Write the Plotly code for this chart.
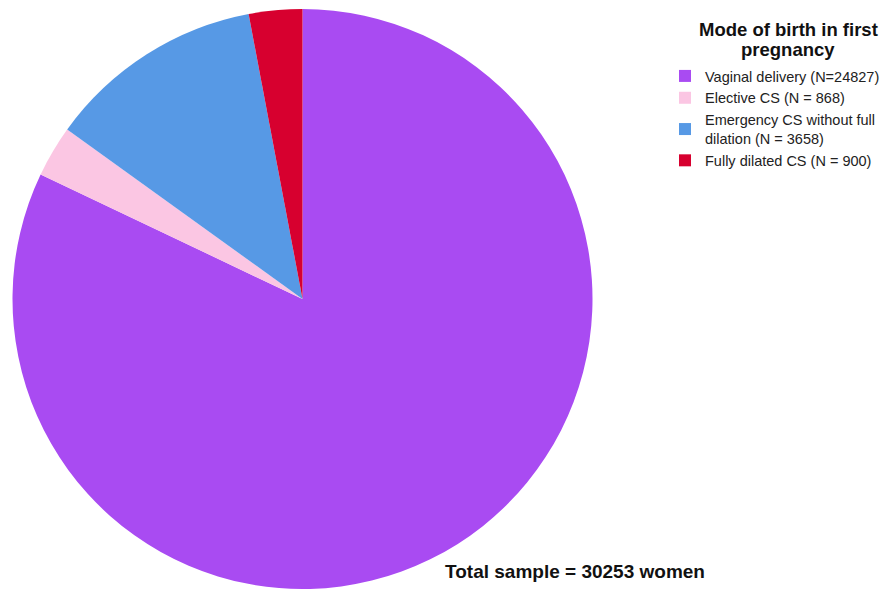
import plotly.graph_objects as go

categories = ["Vaginal delivery (N=24827)", "Elective CS (N = 868)",
              "Emergency CS without full<br>dilation (N = 3658)", "Fully dilated CS (N = 900)"]
values = [24827, 868, 3658, 900]
colors = ["#A94BF2", "#FBC6E3", "#5799E5", "#D7002F"]
legend_title_lines = ["Mode of birth in first", "pregnancy"]
total_text = "Total sample = 30253 women"

W, H = 887, 589
fig = go.Figure(go.Pie(
    labels=categories, values=values, sort=False, direction="clockwise", rotation=0,
    marker=dict(colors=colors, line=dict(width=0)),
    textinfo="none", hoverinfo="label+value",
    domain=dict(x=[11 / W, 594 / W], y=[0, 580 / H]),
))
annotations = []
for i, line in enumerate(legend_title_lines):
    annotations.append(dict(text="<b>" + line + "</b>", x=788 / W, y=1 - (29 + 20 * i) / H,
                            xref="paper", yref="paper", xanchor="center", yanchor="middle",
                            showarrow=False, font=dict(size=18.5, color="#111")))
annotations.append(dict(text="<b>" + total_text + "</b>", x=443 / W, y=1 - 571 / H,
                        xref="paper", yref="paper", xanchor="left", yanchor="middle",
                        showarrow=False, font=dict(size=19, color="#111")))
fig.update_layout(
    width=W, height=H, margin=dict(l=0, r=0, t=0, b=0),
    paper_bgcolor="white", plot_bgcolor="white",
    font=dict(family="Liberation Sans, Arial, sans-serif", color="#222"),
    legend=dict(
        x=665 / W, y=1 - 60 / H, xanchor="left", yanchor="top",
        font=dict(size=14.5, color="#222"), itemwidth=30, tracegroupgap=0,
    ),
    annotations=annotations,
)
fig.write_html("out.html")
